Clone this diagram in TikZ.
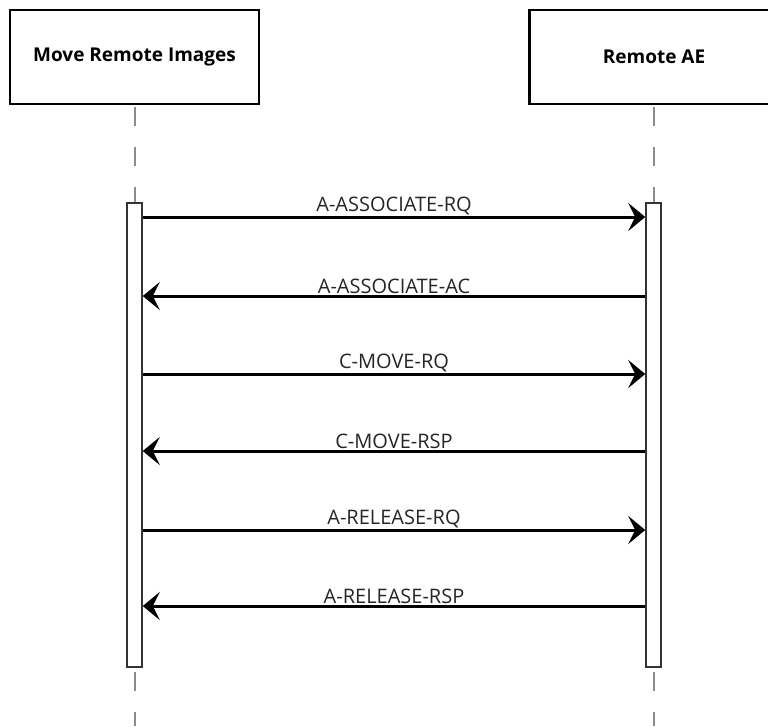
\documentclass[tikz,border=0pt]{standalone}
\usepackage{fontspec}
\setmainfont{Open Sans}
\usetikzlibrary{positioning,arrows.meta,calc}
\newcommand{\msgtip}{-{Stealth[length=17pt,width=28pt,inset=7pt]}}

\begin{document}
\begin{tikzpicture}[x=1pt,y=-1pt,
    actor/.style={draw,line width=2.5pt,minimum width=249pt,minimum height=94pt,inner sep=0pt,font=\bfseries\fontsize{19}{22}\selectfont},
    bar/.style={draw=black!80,line width=1.5pt,fill=white,minimum width=15pt,minimum height=464pt,inner sep=0pt},
    life/.style={black!45,line width=2pt,dash pattern=on 19pt off 21pt},
    msg/.style={line width=3pt},
    lbl/.style={font=\fontsize{20}{23}\selectfont,text=black!85,above,inner sep=0.5pt}]
  \useasboundingbox (0,0) rectangle (768,726);
  % participants
  \node[actor] (mri) at (134.5,57) {Move Remote Images};
  \node[actor] (rae) at (654,57) {Remote AE};
  % lifelines
  \draw[life] (134.5,107) -- (134.5,203);
  \draw[life] (654,107) -- (654,203);
  \draw[life] (134.5,672) -- (134.5,726);
  \draw[life] (654,672) -- (654,726);
  % activations
  \node[bar] (lbar) at (134.5,435) {};
  \node[bar] (rbar) at (653.5,435) {};
  % message ends
  \coordinate (l1) at (lbar.east |- 0,217);
  \coordinate (r1) at (rbar.west |- 0,217);
  \coordinate (l2) at (lbar.east |- 0,296);
  \coordinate (r2) at (rbar.west |- 0,296);
  \coordinate (l3) at (lbar.east |- 0,374);
  \coordinate (r3) at (rbar.west |- 0,374);
  \coordinate (l4) at (lbar.east |- 0,451);
  \coordinate (r4) at (rbar.west |- 0,451);
  \coordinate (l5) at (lbar.east |- 0,530);
  \coordinate (r5) at (rbar.west |- 0,530);
  \coordinate (l6) at (lbar.east |- 0,606);
  \coordinate (r6) at (rbar.west |- 0,606);
  % messages
  \draw[msg,\msgtip] (l1) -- (r1) node[midway,lbl] {A-ASSOCIATE-RQ};
  \draw[msg,\msgtip] (r2) -- (l2) node[midway,lbl] {A-ASSOCIATE-AC};
  \draw[msg,\msgtip] (l3) -- (r3) node[midway,lbl] {C-MOVE-RQ};
  \draw[msg,\msgtip] (r4) -- (l4) node[midway,lbl] {C-MOVE-RSP};
  \draw[msg,\msgtip] (l5) -- (r5) node[midway,lbl] {A-RELEASE-RQ};
  \draw[msg,\msgtip] (r6) -- (l6) node[midway,lbl] {A-RELEASE-RSP};
\end{tikzpicture}
\end{document}
